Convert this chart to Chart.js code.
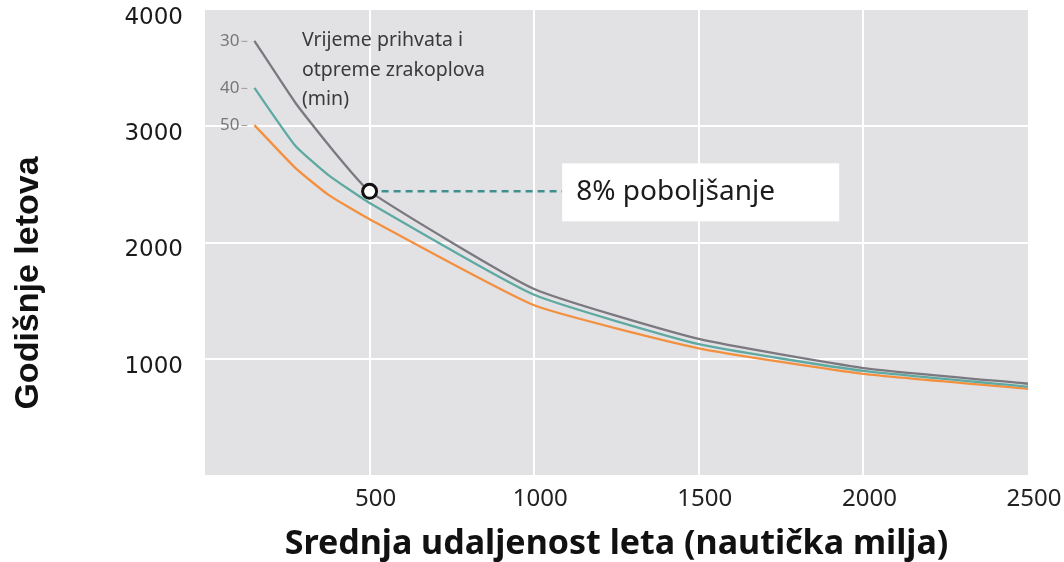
<!DOCTYPE html>
<html>
<head>
<meta charset="utf-8">
<script src="https://cdn.jsdelivr.net/npm/chart.js@4/dist/chart.umd.min.js"></script>
<style>
  html, body { margin: 0; padding: 0; background: #fff; }
  canvas { display: block; }
</style>
</head>
<body>
<canvas id="chart" width="1064" height="562"></canvas>
<script>
// Podaci očitani s grafa
const distances = [150, 275, 375, 500, 1000, 1500, 2000, 2500];
const flights30 = [3735, 3200, 2840, 2440, 1600, 1170, 920, 785];
const flights40 = [3330, 2830, 2580, 2340, 1550, 1125, 895, 760];
const flights50 = [3010, 2640, 2410, 2200, 1460, 1090, 870, 742];
const seriesLabels = ['30', '40', '50'];
const seriesColors = ['#7b7880', '#5fa9a3', '#f3903f'];

const xTicks = [500, 1000, 1500, 2000, 2500];
const yTicks = [1000, 2000, 3000, 4000];

// Oznaka poboljšanja
const markX = 500;
const markY = 2440;
const boxStartX = 1085;
const markText = '8% poboljšanje';
const noteLines = ['Vrijeme prihvata i', 'otpreme zrakoplova', '(min)'];

const toPoints = arr => arr.map((v, i) => ({ x: distances[i], y: v }));

// Pozadina područja grafa
const areaBackground = {
    id: 'areaBackground',
    beforeDraw(chart) {
        const { ctx, chartArea: a } = chart;
        ctx.save();
        ctx.fillStyle = '#e2e2e5';
        ctx.fillRect(a.left, a.top, a.right - a.left, a.bottom - a.top);
        ctx.restore();
    }
};

// Natpisi: 30/40/50, bilješka, okvir s tekstom, naslov y osi
const annotations = {
    id: 'annotations',
    afterDatasetsDraw(chart) {
        const { ctx, chartArea: a } = chart;
        const xs = chart.scales.x, ys = chart.scales.y;
        ctx.save();

        // oznake krivulja
        [flights30, flights40, flights50].forEach((arr, i) => {
            const px = xs.getPixelForValue(distances[0]);
            const py = ys.getPixelForValue(arr[0]);
            ctx.font = '17px "Noto Sans"';
            ctx.fillStyle = '#777';
            ctx.textAlign = 'right';
            ctx.textBaseline = 'middle';
            ctx.fillText(seriesLabels[i], px - 15, py);
            ctx.strokeStyle = '#999';
            ctx.lineWidth = 1;
            ctx.beginPath();
            ctx.moveTo(px - 13, py + 0.5);
            ctx.lineTo(px - 7, py + 0.5);
            ctx.stroke();
        });

        // bilješka
        ctx.font = '19.5px "Noto Sans"';
        ctx.fillStyle = '#3a3a3a';
        ctx.textAlign = 'left';
        ctx.textBaseline = 'alphabetic';
        noteLines.forEach((t, i) => ctx.fillText(t, a.left + 97, a.top + 36 + i * 29.5));

        // okvir s postotkom
        const bx = xs.getPixelForValue(boxStartX);
        const by = ys.getPixelForValue(markY);
        ctx.fillStyle = '#ffffff';
        ctx.fillRect(bx, by - 28, 277, 58);
        ctx.font = '28px "Noto Sans"';
        ctx.fillStyle = '#1c1c1c';
        ctx.textBaseline = 'middle';
        ctx.fillText(markText, bx + 14, by + 1);

        // naslov y osi
        ctx.translate(29, 283);
        ctx.rotate(-Math.PI / 2);
        ctx.font = 'bold 34px "Liberation Sans"';
        ctx.fillStyle = '#111';
        ctx.textAlign = 'center';
        ctx.textBaseline = 'middle';
        ctx.fillText('Godišnje letova', 0, 0);
        ctx.restore();
    }
};

const edgeColor = (lo, hi) => c =>
    (c.tick && (c.tick.value === lo || c.tick.value === hi)) ? 'rgba(0,0,0,0)' : '#ffffff';

const lineStyle = { borderWidth: 2.3, pointRadius: 0, tension: 0.15 };

new Chart(document.getElementById('chart'), {
    type: 'line',
    data: {
        datasets: [
            {
                data: [{ x: markX, y: markY }],
                pointRadius: 7,
                pointBorderWidth: 3,
                pointBorderColor: '#111',
                pointBackgroundColor: '#fff',
                showLine: false
            },
            {
                data: [{ x: markX, y: markY }, { x: boxStartX, y: markY }],
                borderColor: '#3f8f8f',
                borderWidth: 2.5,
                borderDash: [7, 5],
                pointRadius: 0
            },
            { data: toPoints(flights30), borderColor: seriesColors[0], ...lineStyle },
            { data: toPoints(flights40), borderColor: seriesColors[1], ...lineStyle },
            { data: toPoints(flights50), borderColor: seriesColors[2], ...lineStyle }
        ]
    },
    options: {
        responsive: false,
        animation: false,
        layout: { padding: { left: 0, right: 36, top: 6, bottom: 0 } },
        plugins: { legend: { display: false }, tooltip: { enabled: false } },
        scales: {
            x: {
                type: 'linear',
                min: 0,
                max: 2500,
                border: { display: false },
                grid: { color: edgeColor(0, 2500), lineWidth: 2, drawTicks: false },
                afterBuildTicks: s => { s.ticks = [0, ...xTicks].map(v => ({ value: v })); },
                afterFit: s => { s.height = 87; s.paddingLeft = 0; s.paddingRight = 0; },
                ticks: {
                    padding: 10,
                    labelOffset: 6,
                    maxRotation: 0,
                    autoSkip: false,
                    color: '#222',
                    font: { family: 'Noto Sans', size: 24 },
                    callback: v => (v === 0 ? '' : v)
                },
                title: {
                    display: true,
                    text: 'Srednja udaljenost leta (nautička milja)',
                    color: '#111',
                    font: { family: 'Noto Sans', size: 34, weight: 'bold', lineHeight: 1 },
                    padding: { top: 0, bottom: 1 }
                }
            },
            y: {
                min: 0,
                max: 4000,
                border: { display: false },
                grid: { color: edgeColor(0, 4000), lineWidth: 2, drawTicks: false },
                afterBuildTicks: s => { s.ticks = [0, ...yTicks].map(v => ({ value: v })); },
                afterFit: s => { s.width = 205; s.paddingTop = 0; s.paddingBottom = 0; },
                ticks: {
                    padding: 22,
                    labelOffset: 8,
                    color: '#1a1a1a',
                    font: { family: 'DejaVu Sans', size: 23 },
                    callback: v => (v === 0 ? '' : v)
                }
            }
        }
    },
    plugins: [areaBackground, annotations]
});
</script>
</body>
</html>
